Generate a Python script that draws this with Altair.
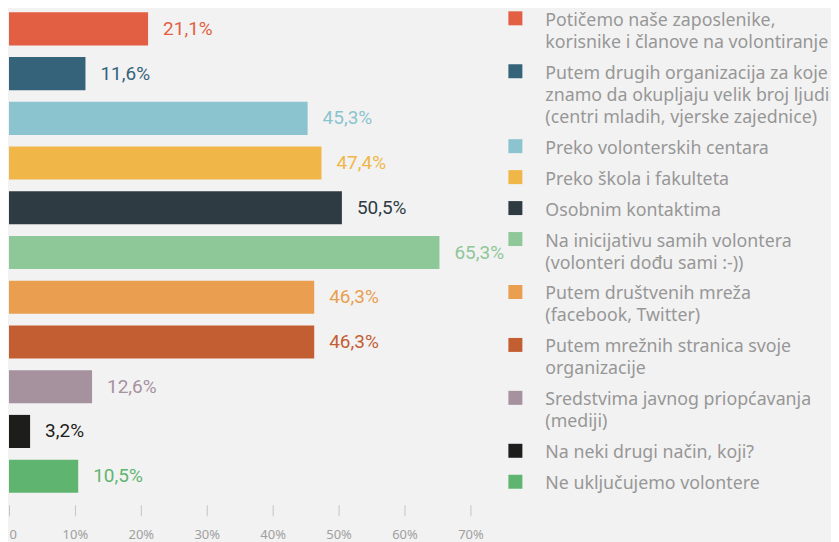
import altair as alt
import pandas as pd

categories = [
    "Potičemo naše zaposlenike,\nkorisnike i članove na volontiranje",
    "Putem drugih organizacija za koje\nznamo da okupljaju velik broj ljudi\n(centri mladih, vjerske zajednice)",
    "Preko volonterskih centara",
    "Preko škola i fakulteta",
    "Osobnim kontaktima",
    "Na inicijativu samih volontera\n(volonteri dođu sami :-))",
    "Putem društvenih mreža\n(facebook, Twitter)",
    "Putem mrežnih stranica svoje\norganizacije",
    "Sredstvima javnog priopćavanja\n(mediji)",
    "Na neki drugi način, koji?",
    "Ne uključujemo volontere",
]
values = [21.1, 11.6, 45.3, 47.4, 50.5, 65.3, 46.3, 46.3, 12.6, 3.2, 10.5]
colors = ["#E35F43", "#34637A", "#8BC4CF", "#F0B648", "#2E3B42", "#8EC798",
          "#EA9E4F", "#C35E32", "#A6919F", "#1D1D1B", "#5FB570"]
x_ticks = [0, 10, 20, 30, 40, 50, 60, 70]
order = list(range(len(categories)))

df = pd.DataFrame({"cat": categories, "value": values, "order": order})

color_scale = alt.Scale(domain=categories, range=colors)

y = alt.Y("cat:N", sort=categories, axis=None,
          scale=alt.Scale(paddingInner=0.26, paddingOuter=0))
x = alt.X("value:Q", scale=alt.Scale(domain=[0, 70], nice=False),
          axis=alt.Axis(
              title=None, values=x_ticks, grid=False, domain=False,
              tickSize=11, tickColor="#c4c4c4", offset=12,
              labelColor="#a0a0a0", labelFontSize=13, labelFont="Noto Sans",
              labelPadding=13,
              labelAlign={"condition": {"test": "datum.value == 0", "value": "left"}, "value": "center"},
              labelExpr="datum.value == 0 ? '0' : datum.value + '%'",
          ))

bars = alt.Chart(df).mark_bar().encode(
    x=x, y=y, color=alt.Color("cat:N", scale=color_scale, legend=None))

text = alt.Chart(df).transform_calculate(
    lbl="replace(format(datum.value, '.1f'), '.', ',') + '%'"
).mark_text(align="left", baseline="middle", dx=15, font="Roboto", fontSize=19).encode(
    x="value:Q",
    y=alt.Y("cat:N", sort=categories),
    text="lbl:N",
    color=alt.Color("cat:N", scale=color_scale, legend=None),
)

left = (bars + text).properties(width=462, height=481)

leg = alt.Chart(df).transform_calculate(
    lines="split(datum.cat, '\\n')"
).transform_calculate(
    h="length(datum.lines) * 22 + 9"
).transform_window(
    cum="sum(h)", sort=[alt.SortField("order")], frame=[None, 0]
).transform_calculate(
    start="datum.cum - datum.h"
)

ly = alt.Y("start:Q", axis=None,
           scale=alt.Scale(domain=[0, 481], reverse=True, nice=False, zero=False))

leg_sym = leg.mark_square(size=196, opacity=1, yOffset=6).encode(
    x=alt.value(7),
    y=ly,
    color=alt.Color("cat:N", scale=color_scale, legend=None),
)
leg_txt = leg.mark_text(align="left", baseline="alphabetic", dy=13.5,
                        font="Noto Sans", fontSize=17.8, lineHeight=22,
                        color="#979797").encode(
    x=alt.value(37),
    y=ly,
    text="lines:N",
)
legend = (leg_sym + leg_txt).properties(width=323, height=481)

chart = alt.hconcat(left, legend, spacing=38, bounds="flush").properties(
    padding={"left": 0, "top": 3, "right": 0, "bottom": 3},
    background="#F2F2F2",
).configure_view(stroke=None)

chart.save("out.html", embed_options={"renderer": "svg", "actions": False})
